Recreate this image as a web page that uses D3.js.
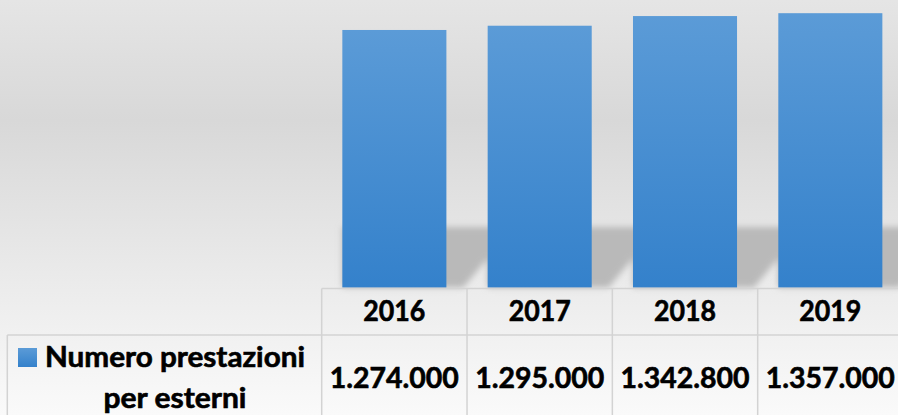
<!DOCTYPE html>
<html>
<head>
<meta charset="utf-8">
<script src="https://cdn.jsdelivr.net/npm/d3@7"></script>
<style>
html,body{margin:0;padding:0;background:#fff;}
svg{display:block;}
</style>
</head>
<body>
<svg id="chart" width="898" height="415"></svg>
<script>
const categories = ["2016", "2017", "2018", "2019"];
const values = [1274000, 1295000, 1342800, 1357000];
const seriesName = ["Numero prestazioni", "per esterni"];

const W = 898, H = 415;
const svg = d3.select("#chart");
const defs = svg.append("defs");

const bg = defs.append("linearGradient").attr("id","bg").attr("x1",0).attr("y1",0).attr("x2",0).attr("y2",1);
[[0,"#e5e5e5"],[0.29,"#d8d8d8"],[0.7,"#ececec"],[1,"#fafafa"]].forEach(s=>bg.append("stop").attr("offset",s[0]).attr("stop-color",s[1]));
const bar = defs.append("linearGradient").attr("id","bar").attr("x1",0).attr("y1",0).attr("x2",0).attr("y2",1);
[[0,"#5b9bd7"],[1,"#3481cb"]].forEach(s=>bar.append("stop").attr("offset",s[0]).attr("stop-color",s[1]));
const blur = defs.append("filter").attr("id","blur").attr("x","-20%").attr("y","-20%").attr("width","140%").attr("height","140%");
blur.append("feGaussianBlur").attr("stdDeviation",3);

svg.append("rect").attr("width",W).attr("height",H).attr("fill","url(#bg)");

const plotBottom = 287.5;
const x = d3.scaleBand().domain(categories).range([321.7, 903]).paddingInner(0.284).paddingOuter(0.142);
const col = d3.scaleBand().domain(categories).range([321.7, 903]).padding(0);
const y = d3.scaleLinear().domain([0, 1400000]).range([plotBottom, 4.5]);

// shadows
const shadowTop = 227;
svg.append("g").attr("filter","url(#blur)").selectAll("path").data(categories).join("path")
  .attr("fill","#b9b9b9")
  .attr("d", d => {
    const l = x(d), r = x(d) + x.bandwidth();
    return `M${l},${shadowTop}L${r+67},${shadowTop}L${r+17},${plotBottom}L${l},${plotBottom}Z`;
  });

// bars
svg.append("g").selectAll("rect").data(categories).join("rect")
  .attr("x", d => x(d))
  .attr("width", x.bandwidth())
  .attr("y", (d,i) => y(values[i]))
  .attr("height", (d,i) => y(0) - y(values[i]))
  .attr("fill","url(#bar)");

// table
const it = d3.formatLocale({decimal:",", thousands:".", grouping:[3], currency:["","€"]});
const fmt = it.format(",.0f");
const headTop = 288.5, rowTop = 335, tableLeft = 7.3;
const tbl = svg.append("g").attr("stroke","#d3d3d3").attr("stroke-width",1.5).attr("fill","none");
tbl.append("line").attr("x1",col.range()[0]).attr("x2",W+5).attr("y1",headTop).attr("y2",headTop);
tbl.append("line").attr("x1",tableLeft).attr("x2",W+5).attr("y1",rowTop).attr("y2",rowTop);
tbl.append("line").attr("x1",tableLeft).attr("x2",tableLeft).attr("y1",rowTop).attr("y2",H+5);
tbl.selectAll(".v").data(categories).join("line").attr("class","v")
  .attr("x1", d => col(d)).attr("x2", d => col(d)).attr("y1", headTop).attr("y2", H+5);

const font = "Lato, 'Open Sans', sans-serif";
function styleText(sel){
  sel.attr("font-family",font).attr("font-weight","bold").attr("font-size",28)
     .attr("fill","#000").attr("stroke","#000").attr("stroke-width",0.6)
     .attr("lengthAdjust","spacingAndGlyphs");
}
svg.append("g").selectAll("text").data(categories).join("text")
  .attr("x", d => col(d) + col.bandwidth()/2).attr("y", 320.5)
  .attr("text-anchor","middle").call(styleText)
  .attr("textLength", 62).text(d => d);
svg.append("g").selectAll("text").data(categories).join("text")
  .attr("x", d => col(d) + col.bandwidth()/2).attr("y", 388)
  .attr("text-anchor","middle").call(styleText)
  .attr("textLength", 129).text((d,i) => fmt(values[i]));

// legend key + series label
svg.append("rect").attr("x",18).attr("y",348).attr("width",19).attr("height",19).attr("fill","url(#bar)");
const labelLens = [260, 143];
svg.append("g").selectAll("text").data(seriesName).join("text")
  .attr("x",175).attr("y",(d,i)=>367 + i*41)
  .attr("text-anchor","middle").call(styleText)
  .attr("textLength",(d,i)=>labelLens[i]).text(d=>d);
</script>
</body>
</html>
